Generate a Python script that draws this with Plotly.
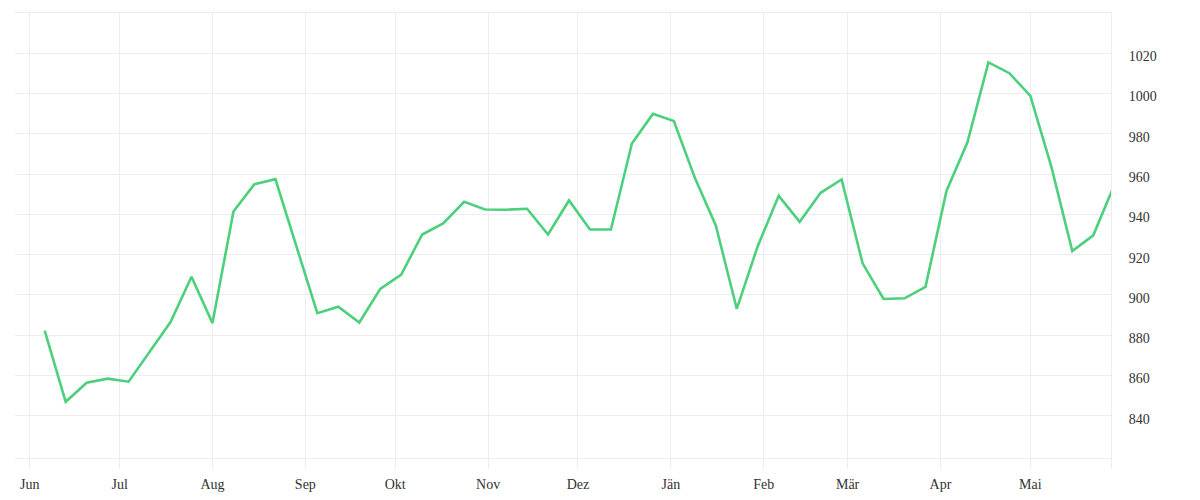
import pandas as pd
import plotly.graph_objects as go

# Weekly series, first point 2021-06-06
start_date = "2021-06-06"
n_weeks = 52
values = [
    882.2, 846.9, 856.4, 858.4, 856.9, 871.8, 886.5, 909.0, 886.0, 941.4,
    955.0, 957.5, 924.0, 890.9, 894.1, 886.3, 903.0, 910.1, 930.0, 935.5,
    946.2, 942.4, 942.3, 942.8, 930.0, 946.9, 932.5, 932.5, 975.2, 989.9,
    986.3, 958.2, 934.5, 893.1, 924.2, 949.2, 936.3, 950.7, 957.3, 915.7,
    898.0, 898.3, 904.0, 951.6, 975.8, 1015.5, 1010.1, 998.8, 963.7, 921.8,
    929.6, 954.5,
]
dates = pd.date_range(start_date, periods=n_weeks, freq="7D")

month_ticks = ["2021-06-01", "2021-07-01", "2021-08-01", "2021-09-01", "2021-10-01",
               "2021-11-01", "2021-12-01", "2022-01-01", "2022-02-01", "2022-03-01",
               "2022-04-01", "2022-05-01"]
month_labels = ["Jun", "Jul", "Aug", "Sep", "Okt", "Nov", "Dez", "Jän", "Feb", "Mär", "Apr", "Mai"]
x_range = ["2021-05-27 02:00", "2022-05-27 22:00"]

y_ticks = [840, 860, 880, 900, 920, 940, 960, 980, 1000, 1020]
y_labels = [str(v) for v in y_ticks]
y_range = [819, 1040]

GRID = "#ededed"
FONT = "Liberation Serif, DejaVu Serif, serif"

fig = go.Figure()
fig.add_trace(go.Scatter(
    x=dates, y=values, mode="lines",
    line=dict(color="#4cd07c", width=2.6),
    hoverinfo="x+y", showlegend=False,
))

fig.update_layout(
    width=1200, height=500,
    margin=dict(l=7, r=97, t=5, b=50),
    paper_bgcolor="white", plot_bgcolor="white",
    font=dict(family=FONT, size=14, color="#333333"),
    xaxis=dict(
        range=x_range,
        tickmode="array",
        tickvals=month_ticks + [x_range[1]],
        ticktext=month_labels + [""],
        showgrid=True, gridcolor=GRID, gridwidth=1,
        ticks="outside", ticklen=10, tickcolor=GRID, tickwidth=1,
        ticklabelstandoff=3,
        showline=True, mirror=True, linecolor=GRID, linewidth=1,
        zeroline=False,
        tickfont=dict(family=FONT, size=14, color="#333333"),
    ),
    yaxis=dict(
        side="right",
        range=y_range,
        tickmode="array",
        tickvals=y_ticks,
        ticktext=y_labels,
        showgrid=True, gridcolor=GRID, gridwidth=1,
        ticks="", ticklabelstandoff=14, ticklabelshift=3,
        showline=True, linecolor=GRID, linewidth=1,
        zeroline=False,
        tickfont=dict(family=FONT, size=14, color="#333333"),
    ),
)

fig.write_html("out.html")
